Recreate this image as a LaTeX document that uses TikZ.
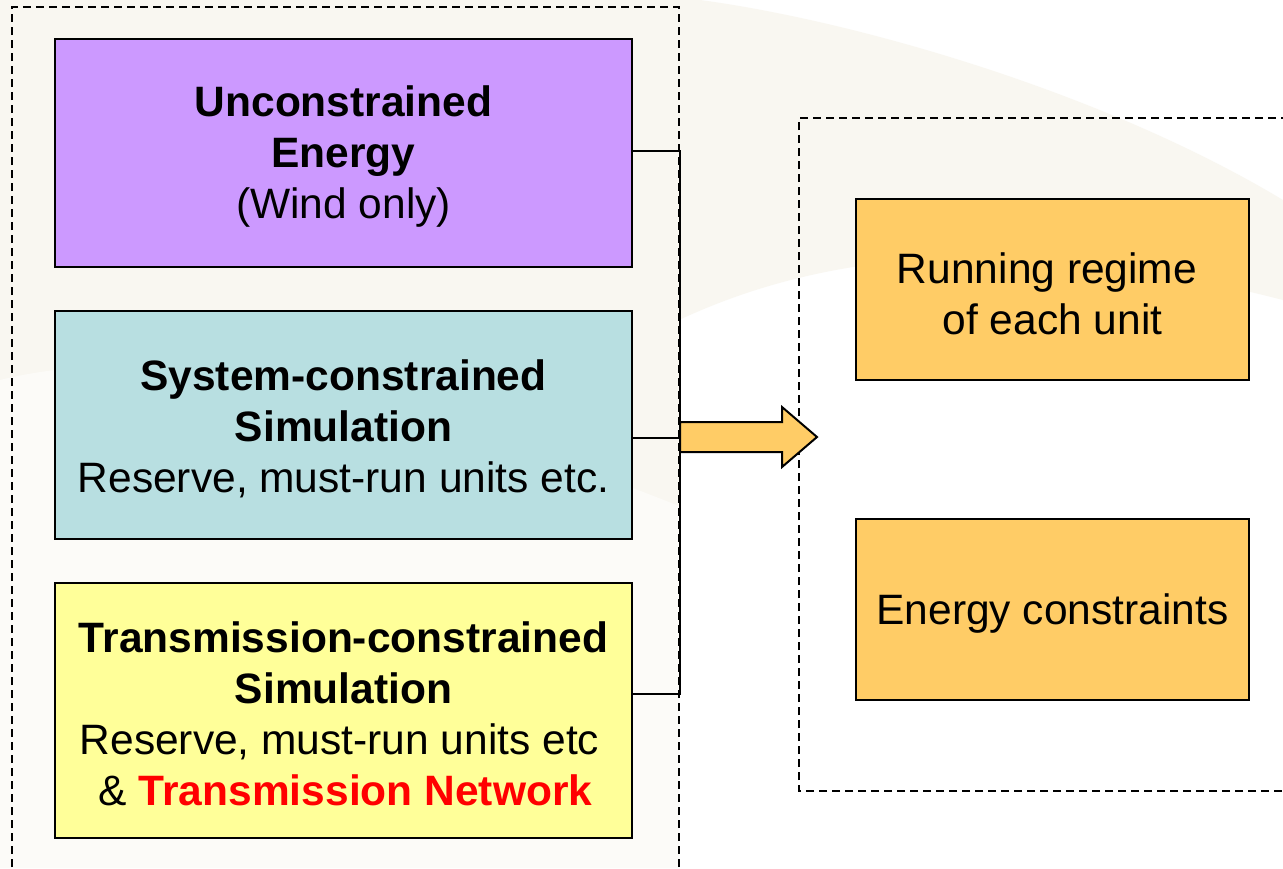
\documentclass[tikz,border=0pt]{standalone}
\usepackage{fontspec}
\setmainfont{Liberation Sans}
\usetikzlibrary{calc}
\definecolor{purp}{HTML}{CC99FF}
\definecolor{tealbox}{HTML}{B8DFE1}
\definecolor{yel}{HTML}{FFFF99}
\definecolor{orng}{HTML}{FFCC66}
\definecolor{bgtint}{HTML}{F9F7F1}
\definecolor{netred}{HTML}{FF0000}
\begin{document}
\begin{tikzpicture}[x=1pt,y=-1pt,
  box/.style={draw=black,line width=2pt,inner sep=0pt},
  txt/.style={inner sep=0pt,align=center,font=\fontsize{42.5}{51}\selectfont},
  dashbox/.style={draw=black,line width=2pt,dash pattern=on 8pt off 5pt},
  link/.style={draw=black,line width=2pt}]
\useasboundingbox (0,0) rectangle (1283,868);
\fill[white] (0,0) rectangle (1283,868);
% faint background watermark
\fill[bgtint] (0,0) -- (700,0) .. controls (850,20) and (1100,90) .. (1283,200)
  -- (1283,300) .. controls (1050,240) and (850,240) .. (679,320) -- (679,868) -- (0,868) -- cycle;
\fill[white,opacity=0.5] (0,380) .. controls (200,330) and (500,420) .. (900,600)
  .. controls (1000,650) and (1150,700) .. (1283,720) -- (1283,868) -- (0,868) -- cycle;
% dashed groups
\draw[dashbox] (12,880) -- (12,7) -- (679,7) -- (679,880);
\draw[dashbox] (1295,791) -- (799,791) -- (799,118) -- (1295,118);
% left boxes
\node[box,fill=purp,minimum width=577pt,minimum height=228pt] (unc) at (343.5,153) {};
\node[txt] (unct) at ($(unc.center)+(0,4)$)
  {\textbf{Unconstrained}\\\textbf{Energy}\\(Wind only)};
\node[box,fill=tealbox,minimum width=577pt,minimum height=228pt] (sys) at (343.5,425) {};
\node[txt] (syst) at ($(sys.center)+(0,4)$)
  {\textbf{System-constrained}\\\textbf{Simulation}\\Reserve, must-run units etc.};
\node[box,fill=yel,minimum width=577pt,minimum height=255pt] (tra) at (343.5,710.5) {};
\node[txt] (trat) at ($(tra.center)+(0,3)$)
  {\textbf{Transmission-constrained}\\\textbf{Simulation}\\Reserve, must-run units etc\kern8pt\\\kern4pt\& \textcolor{netred}{\textbf{Transmission Network}}};
% right boxes
\node[box,fill=orng,minimum width=393pt,minimum height=181pt] (run) at (1052.5,289.5) {};
\node[txt] (runt) at ($(run.center)+(0,4)$) {Running regime\kern11pt\\of each unit};
\node[box,fill=orng,minimum width=393pt,minimum height=181pt] (enc) at (1052.5,609.5) {};
\node[txt] (enct) at ($(enc.center)+(0,4)$) {Energy constraints};
% bracket
\coordinate (bx) at (680,0);
\coordinate (ut) at ($(unc.east)+(0,-2)$);
\coordinate (sm) at ($(sys.east)+(0,13)$);
\coordinate (tb) at ($(tra.east)+(0,-16.5)$);
\draw[link] (ut) -- (ut -| bx) -- (tb -| bx) -- (tb);
\draw[link] (sm) -- (sm -| bx);
% block arrow
\coordinate (as) at (680,437);
\draw[fill=orng,line width=2pt,line join=miter]
  ($(as)+(0,-15)$) -- ++(102,0) -- ++(0,-15) -- ($(as)+(137,0)$)
  -- ($(as)+(102,30)$) -- ++(0,-15) -- ($(as)+(0,15)$) -- cycle;
\end{tikzpicture}
\end{document}
